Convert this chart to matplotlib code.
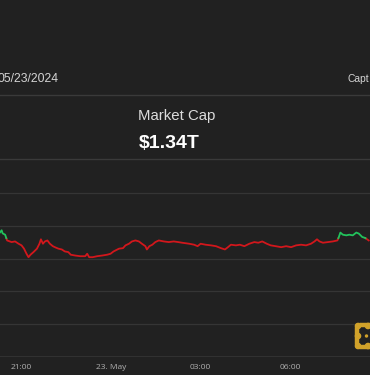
import numpy as np
import matplotlib
matplotlib.use("Agg")
import matplotlib.pyplot as plt
from matplotlib.patches import FancyBboxPatch, Circle

# ---- data (minutes from 23 May 00:00, market cap in $B) ----
minutes = [-223, -220, -218, -213, -209, -200, -193, -186, -180, -175,
           -170, -166, -162, -156, -149, -144, -141, -137, -133, -128,
           -123, -117, -113, -106, -99, -93, -86, -81, -72, -62,
           -52, -48, -44, -37, -28, -18, -8, -1, 5, 16,
           24, 29, 36, 42, 49, 56, 62, 69, 72, 77,
           83, 89, 96, 106, 116, 126, 135, 143, 157, 167,
           174, 180, 190, 201, 211, 221, 229, 235, 241, 251,
           259, 268, 278, 288, 296, 304, 313, 321, 331, 342,
           352, 362, 372, 382, 392, 402, 409, 414, 419, 426,
           436, 446, 455, 458, 461, 466, 473, 479, 486, 493,
           498, 505, 511, 518]
values = [1356.0, 1357.2, 1355.3, 1354.5, 1351.0, 1350.0, 1350.4, 1349.0, 1348.0, 1346.0,
          1342.9, 1340.8, 1342.3, 1343.9, 1346.0, 1349.0, 1351.7, 1349.0, 1350.4, 1351.0,
          1349.0, 1347.5, 1346.9, 1346.0, 1345.5, 1344.3, 1343.9, 1342.3, 1341.8, 1341.4,
          1341.4, 1342.9, 1340.8, 1340.8, 1341.4, 1341.8, 1342.3, 1342.9, 1344.3, 1346.0,
          1346.3, 1348.0, 1349.0, 1350.4, 1351.0, 1350.4, 1349.0, 1347.5, 1345.5, 1347.5,
          1348.4, 1350.0, 1351.0, 1350.4, 1350.0, 1350.4, 1350.0, 1349.6, 1349.0, 1348.4,
          1347.5, 1349.0, 1348.4, 1348.0, 1347.5, 1346.3, 1345.5, 1346.9, 1348.4, 1348.0,
          1348.4, 1347.5, 1349.0, 1350.0, 1349.6, 1350.4, 1349.0, 1348.0, 1347.5, 1346.9,
          1347.5, 1346.9, 1348.0, 1348.4, 1348.0, 1349.0, 1350.4, 1351.7, 1350.4, 1349.6,
          1350.0, 1350.4, 1351.0, 1353.1, 1355.8, 1354.5, 1354.1, 1354.5, 1354.1, 1355.8,
          1355.2, 1353.1, 1352.5, 1351.0]
baseline = 1352.4
grid_values = [1300, 1320, 1340, 1360, 1380]
tick_minutes = [-180, 0, 180, 360]
tick_labels = ["21:00", "23. May", "03:00", "06:00"]
title = "Market Cap"
headline = "$1.34T"
date_text = "05/23/2024"

BG = "#212121"
GRID = "#353535"
RED = "#d2171c"
GREEN = "#22c25c"
GOLD = "#d1a22a"

fig = plt.figure(figsize=(3.7, 3.75), dpi=100, facecolor=BG)

# chart axes
ax = fig.add_axes([0, 18 / 375, 1, (357 - 160) / 375])
ax.set_facecolor(BG)
ax.set_xlim(-223.3, 520.6)
ax.set_ylim(1280, 1400)
for g in grid_values:
    ax.axhline(g, color=GRID, lw=0.9, zorder=1)
ax.axhline(1280, color=GRID, lw=1.2, zorder=1)
for s in ax.spines.values():
    s.set_visible(False)
ax.set_yticks([])
ax.set_xticks(tick_minutes)
ax.set_xticklabels(tick_labels)
ax.tick_params(axis="x", length=0, pad=5, labelsize=6.0, labelcolor="#b0b0b0")
for lbl in ax.get_xticklabels():
    lbl.set_family(["Open Sans", "DejaVu Sans"])

# split line into above/below baseline with crossing points
t = np.array(minutes, dtype=float)
v = np.array(values, dtype=float)
xs, ys = [t[0]], [v[0]]
for i in range(1, len(t)):
    a, b = v[i - 1] - baseline, v[i] - baseline
    if a * b < 0:
        f = a / (a - b)
        xs.append(t[i - 1] + f * (t[i] - t[i - 1]))
        ys.append(baseline)
    xs.append(t[i])
    ys.append(v[i])
xs = np.array(xs)
ys = np.array(ys)
above = np.ma.masked_where(ys < baseline - 1e-9, ys)
below = np.ma.masked_where(ys > baseline + 1e-9, ys)
ax.plot(xs, below, color=RED, lw=1.3, zorder=3, solid_joinstyle="round")
ax.plot(xs, above, color=GREEN, lw=1.3, zorder=3, solid_joinstyle="round")

# overlay axes for header & decorations (pixel coords)
ov = fig.add_axes([0, 0, 1, 1], facecolor="none")
ov.set_xlim(0, 370)
ov.set_ylim(375, 0)
ov.axis("off")
ov.plot([0, 370], [95, 95], color="#3a3a3a", lw=1.0)
ov.plot([0, 370], [158.5, 158.5], color="#3a3a3a", lw=1.0)

ov.text(-3, 82.5, date_text, color="#d4d4d4", fontsize=8.7,
        family=["Liberation Sans", "DejaVu Sans"], va="baseline", ha="left")
ov.text(348, 82.5, "Capt", color="#d4d4d4", fontsize=7.4,
        family=["Liberation Sans", "DejaVu Sans"], va="baseline", ha="left")
ov.text(138.5, 120, title, color="#dcdcdc", fontsize=10.8,
        family=["Liberation Sans", "DejaVu Sans"], va="baseline", ha="left")
ov.text(138.5, 148.3, headline, color="#ffffff", fontsize=14, fontweight="bold",
        family=["Liberation Sans", "DejaVu Sans"], va="baseline", ha="left")

# logo (gold chain-like square)
box = FancyBboxPatch((357, 325), 20, 22, boxstyle="round,pad=0,rounding_size=3",
                     fill=False, ec=GOLD, lw=3.2, zorder=5)
ov.add_patch(box)
for cx, cy in [(358, 326), (358, 346), (358, 336), (368, 326), (368, 346)]:
    ov.add_patch(Circle((cx, cy), 2.6, color=GOLD, zorder=6))
ov.add_patch(Circle((366.5, 336), 1.0, color=GOLD, zorder=6))

fig.savefig("out.png", dpi=100, facecolor=BG)
